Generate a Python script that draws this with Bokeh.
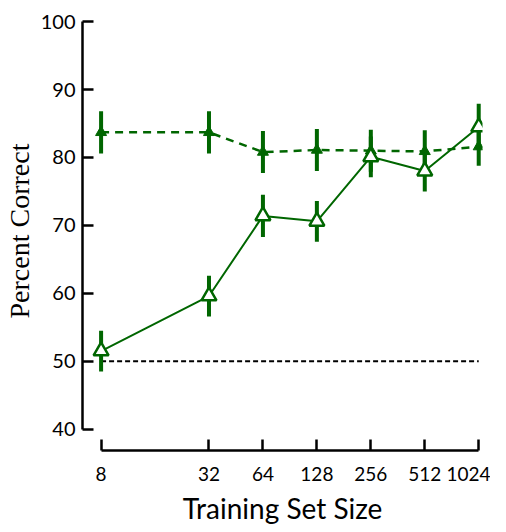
from bokeh.plotting import figure
from bokeh.models import Range1d, FixedTicker
from bokeh.embed import file_html
from bokeh.resources import INLINE

sizes = [8, 32, 64, 128, 256, 512, 1024]
tick_labels = ["8", "32", "64", "128", "256", "512", "1024"]
filled_pct = [83.7, 83.7, 80.8, 81.1, 81.0, 80.9, 81.6]
filled_err = [3.1, 3.1, 3.1, 3.1, 3.1, 3.1, 2.8]
open_pct = [51.5, 59.6, 71.4, 70.6, 80.1, 78.0, 84.5]
open_err = [3.0, 3.0, 3.1, 3.0, 3.0, 3.0, 3.4]
chance_x = [8, 1024]
chance_y = [50, 50]

GREEN = "#006600"

p = figure(width=490, height=530, x_axis_type="log",
           x_range=Range1d(6.3, 1075), y_range=Range1d(36.85, 101.5),
           output_backend="svg", toolbar_location=None,
           min_border_left=77, min_border_right=8, min_border_top=11, min_border_bottom=80)
p.outline_line_color = None
p.grid.visible = False
p.background_fill_color = "white"

# chance line
p.line(chance_x, chance_y, line_color="black", line_width=2, line_dash="5 3")

# filled series
p.line(sizes, filled_pct, line_color=GREEN, line_width=2.5, line_dash="8 6")
p.segment(x0=sizes, y0=[v - e for v, e in zip(filled_pct, filled_err)],
          x1=sizes, y1=[v + e for v, e in zip(filled_pct, filled_err)],
          line_color=GREEN, line_width=4)
p.scatter(sizes, filled_pct, marker="triangle", size=11, fill_color=GREEN,
          line_color=GREEN, line_width=1)

# open series
p.line(sizes, open_pct, line_color=GREEN, line_width=2)
p.segment(x0=sizes, y0=[v - e for v, e in zip(open_pct, open_err)],
          x1=sizes, y1=[v + e for v, e in zip(open_pct, open_err)],
          line_color=GREEN, line_width=4)
p.scatter(sizes, open_pct, marker="triangle", size=15, fill_color="white",
          line_color=GREEN, line_width=2.5)

# x axis
xa = p.xaxis[0]
xa.ticker = FixedTicker(ticks=sizes, minor_ticks=[])
xa.major_label_overrides = {s: t for s, t in zip(sizes, tick_labels)}
xa.bounds = (8, 1024)
xa.axis_line_width = 2.5
xa.major_tick_line_width = 2.5
xa.major_tick_in = 11
xa.major_tick_out = 0
xa.minor_tick_line_color = None
xa.major_label_text_font = "Lato"
xa.major_label_text_font_size = "19px"
xa.major_label_text_color = "black"
xa.major_label_standoff = 16
xa.axis_label = "Training Set Size"
xa.axis_label_text_font = "Lato"
xa.axis_label_text_font_size = "28px"
xa.axis_label_text_font_style = "normal"
xa.axis_label_text_color = "black"
xa.axis_label_standoff = 7

# y axis
ya = p.yaxis[0]
ya.ticker = FixedTicker(ticks=[40, 50, 60, 70, 80, 90, 100], minor_ticks=[])
ya.bounds = (40, 100)
ya.axis_line_width = 2.5
ya.major_tick_line_width = 2.5
ya.major_tick_in = 11
ya.major_tick_out = 0
ya.minor_tick_line_color = None
ya.major_label_text_font = "Lato"
ya.major_label_text_font_size = "20px"
ya.major_label_text_color = "black"
ya.major_label_standoff = 7
ya.axis_label = "Percent Correct"
ya.axis_label_text_font = "Liberation Serif"
ya.axis_label_text_font_size = "28px"
ya.axis_label_text_font_style = "normal"
ya.axis_label_text_color = "black"
ya.axis_label_standoff = 3

open("out.html", "w").write(file_html(p, INLINE))
